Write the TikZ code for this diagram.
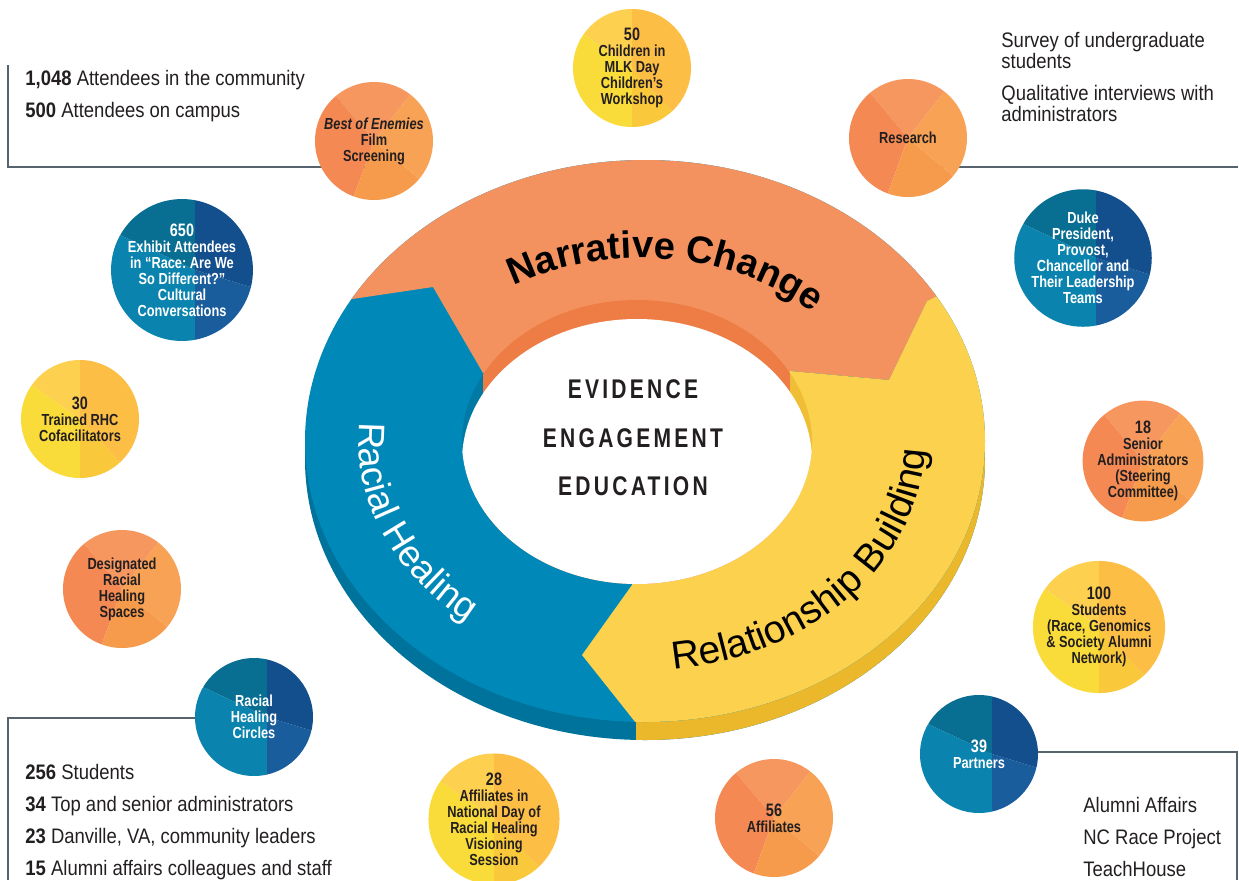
\documentclass[tikz,border=0pt]{standalone}
\usepackage{fontspec}
\setmainfont{Liberation Sans}[FakeStretch=0.88]
\newfontfamily\ringfont{Liberation Sans}
\newfontfamily\bubfont{Liberation Sans}[FakeStretch=0.8]
\newfontfamily\corefont{Liberation Sans}[FakeStretch=0.78,LetterSpace=12]
\usetikzlibrary{positioning,decorations.text}
\pgfdeclarelayer{background}
\pgfsetlayers{background,main}
\frenchspacing

\definecolor{ink}{HTML}{231F20}
\definecolor{framegrey}{HTML}{56656D}
\definecolor{ringorange}{HTML}{F3925F}
\definecolor{wallorange}{HTML}{EE7C45}
\definecolor{ringblue}{HTML}{0089B8}
\definecolor{sideblue}{HTML}{00739C}
\definecolor{wallblue}{HTML}{0079A4}
\definecolor{ringyellow}{HTML}{FCD14D}
\definecolor{sideyellow}{HTML}{EBB82C}
\definecolor{wallyellow}{HTML}{EFBE36}
% pie slices of the bubbles
\definecolor{orA}{HTML}{F5975F}
\definecolor{orB}{HTML}{F48953}
\definecolor{orC}{HTML}{F69A4B}
\definecolor{orD}{HTML}{F8A255}
\definecolor{yeA}{HTML}{FDD04F}
\definecolor{yeB}{HTML}{F9DC3A}
\definecolor{yeC}{HTML}{F9C83B}
\definecolor{yeD}{HTML}{FDBE46}
\definecolor{blA}{HTML}{086F92}
\definecolor{blB}{HTML}{0A84AE}
\definecolor{blC}{HTML}{1A5D9D}
\definecolor{blD}{HTML}{134F8D}

\newcommand\pieslice[4][0pt]{%
  \fill[#2] ([xshift=#1]path picture bounding box.center) -- ++(#3:50pt)
    arc[start angle=#3, end angle=#4, radius=50pt] -- cycle;}
\newcommand\bubnum[1]{{\fontsize{9}{9}\selectfont#1}}
\newcommand\narrfont{\ringfont\bfseries\fontsize{19}{19}\selectfont}
\newcommand\arcfont{\ringfont\fontsize{18.5}{18.5}\selectfont}
\newcommand\relfont{\ringfont\fontsize{19.5}{19.5}\selectfont}

\begin{document}
\begin{tikzpicture}[
  x=0.5pt, y=-0.5pt,
  bubble/.style={circle, minimum size=59pt, inner sep=0pt, align=center,
                 font=\bubfont\bfseries\fontsize{8}{8}\selectfont, text=ink},
  orangebub/.style={bubble, path picture={\pieslice{orA}{52}{130}%
      \pieslice{orB}{130}{250}\pieslice{orC}{250}{320}\pieslice{orD}{320}{412}}},
  yellowbub/.style={bubble, path picture={\pieslice{yeA}{90}{145}%
      \pieslice{yeB}{145}{270}\pieslice{yeC}{270}{313}\pieslice{yeD}{313}{450}}},
  bluebub/.style={bubble, text=white, path picture={\pieslice[6.5pt]{blA}{90}{155}%
      \pieslice[6.5pt]{blB}{155}{270}\pieslice[6.5pt]{blC}{270}{343}%
      \pieslice[6.5pt]{blD}{343}{450}}},
  listtext/.style={anchor=west, align=left, inner sep=0pt, text=ink,
                   font=\fontsize{10.5}{16}\selectfont},
  frame/.style={draw=framegrey, line width=0.8pt},
]
\useasboundingbox (0,0) rectangle (1239,880);

% ring: side, face, hole
\fill[sideblue] (645,459) ellipse[x radius=340, y radius=281];
\begin{scope}
  \clip (636,400) rectangle (1000,760);
  \fill[sideyellow] (645,459) ellipse[x radius=340, y radius=281];
\end{scope}
\fill[ringblue] (645,441) ellipse[x radius=340, y radius=281];
\begin{scope}
  \clip (645,441) ellipse[x radius=340, y radius=281];
  \fill[ringorange] (645,441) -- (483,373) -- (433,287) -- (339,301) -- (33,161)
    -- (33,-100) -- (1209,-100) -- (1209,161) -- (927,301) -- (889,380)
    -- (790,371) -- cycle;
  \fill[ringyellow] (645,441) -- (790,371) -- (889,380) -- (927,301) -- (1209,161)
    -- (1209,1005) -- (627,1005) -- (636,723) -- (582,655) -- (632,585) -- cycle;
\end{scope}
\begin{scope}
  \clip (637,442) ellipse[x radius=175, y radius=142];
  \fill[wallblue] (400,250) rectangle (483,600);
  \fill[wallorange] (483,250) rectangle (790,600);
  \fill[wallyellow] (790,250) rectangle (880,600);
  \fill[white] (637,461) ellipse[x radius=175, y radius=142];
\end{scope}

% ring labels
\path[decorate, decoration={text along path, text align=center,
    text={|\narrfont|Narrative Change}}]
  (641,442) ++(193:242 and 184) arc[start angle=193, end angle=363, x radius=242, y radius=184];
\path[decorate, decoration={text along path, text align=center, text color=white,
    text={|\arcfont|Racial Healing}}]
  (641,442) ++(192:282 and 228) arc[start angle=192, end angle=122, x radius=282, y radius=228];
\path[decorate, decoration={text along path, text align=center,
    text={|\relfont|Relationship Building}}]
  (641,442) ++(89:284 and 229) arc[start angle=89, end angle=-5, x radius=284, y radius=229];

\node[font=\corefont\bfseries\fontsize{13.5}{24.25}\selectfont, align=center, text=ink]
  (core) at (633,438) {EVIDENCE\\ENGAGEMENT\\EDUCATION};

% bubbles
\node[orangebub] (film) at (374,141) {{\itshape Best of Enemies}\\Film\\Screening};
\node[yellowbub] (mlk) at (632,68) {\bubnum{50}\\Children in\\MLK Day\\Children’s\\Workshop};
\node[orangebub] (research) at (908,138) {Research};
\node[bluebub] (exhibit) at (182,270)
  {\bubnum{650}\\Exhibit Attendees\\in “Race: Are We\\So Different?”\\Cultural\\Conversations};
\node[bluebub] (duke) at (1083,258)
  {Duke\\President,\\Provost,\\Chancellor and\\Their Leadership\\Teams};
\node[yellowbub] (trained) at (80,419) {\bubnum{30}\\Trained RHC\\Cofacilitators};
\node[orangebub] (spaces) at (122,589) {Designated\\Racial\\Healing\\Spaces};
\node[orangebub] (senior) at (1143,461)
  {\bubnum{18}\\Senior\\Administrators\\(Steering\\Committee)};
\node[yellowbub] (students) at (1099,627)
  {\bubnum{100}\\Students\\(Race, Genomics\\\& Society Alumni\\Network)};
\node[bluebub] (circles) at (254,717) {Racial\\Healing\\Circles};
\node[bluebub] (partners) at (979,754) {\bubnum{39}\\Partners};
\node[yellowbub] (national) at (494,819)
  {\bubnum{28}\\Affiliates in\\National Day of\\Racial Healing\\Visioning\\Session};
\node[orangebub] (affiliates) at (774,818) {\bubnum{56}\\Affiliates};

% lists
\node[listtext] (reach) at (25,96)
  {\textbf{1,048} Attendees in the community\\\textbf{500} Attendees on campus};
\node[listtext, font=\fontsize{10.5}{10.5}\selectfont] (study) at (1001,77)
  {Survey of undergraduate\\students\\[5.5pt]Qualitative interviews with\\administrators};
\node[listtext] (circlecount) at (25,822)
  {\textbf{256} Students\\\textbf{34} Top and senior administrators\\
   \textbf{23} Danville, VA, community leaders\\\textbf{15} Alumni affairs colleagues and staff};
\node[listtext] (partnerlist) at (1083,837) {Alumni Affairs\\NC Race Project\\TeachHouse};

% frame lines behind the bubbles
\begin{pgfonlayer}{background}
  \coordinate (tltop) at (8,65);
  \coordinate (tlbend) at (8,167);
  \draw[frame] (tltop) -- (tlbend) -- (tlbend -| film.center);
  \coordinate (trend) at (1238,167);
  \draw[frame] (trend -| research.center) -- (trend);
  \coordinate (blbend) at (8,718);
  \coordinate (blend) at (8,880);
  \draw[frame] (blbend -| circles.center) -- (blbend) -- (blend);
  \coordinate (brbend) at (1237,752);
  \coordinate (brend) at (1237,880);
  \draw[frame] (brbend -| partners.center) -- (brbend) -- (brend);
\end{pgfonlayer}
\end{tikzpicture}
\end{document}
